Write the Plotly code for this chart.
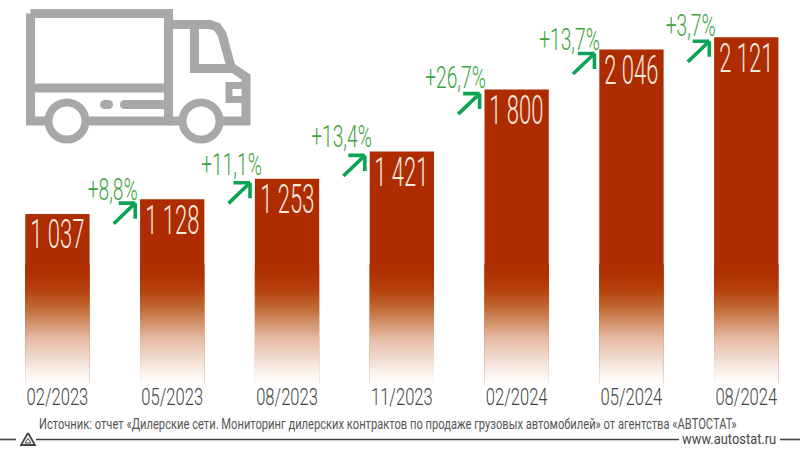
import plotly.graph_objects as go

W, H = 800, 450
BASE_PX = 383
PX_PER_UNIT = 0.163

periods = ["02/2023", "05/2023", "08/2023", "11/2023", "02/2024", "05/2024", "08/2024"]
dealers = [1037, 1128, 1253, 1421, 1800, 2046, 2121]
value_labels = ["1 037", "1 128", "1 253", "1 421", "1 800", "2 046", "2 121"]
growth_labels = ["", "+8,8%", "+11,1%", "+13,4%", "+26,7%", "+13,7%", "+3,7%"]
growth_dx = [0, -59.5, -55.5, -60, -61, -61.5, -56]
growth_dy = [0, 10, 15, 15, 13, 11, 12]

SOURCE = "Источник: отчет «Дилерские сети. Мониторинг дилерских контрактов по продаже грузовых автомобилей» от агентства «АВТОСТАТ»"
SITE = "www.autostat.ru"

FONT = "Roboto"
BAR = "rgb(174,45,0)"
GREEN_TXT = "#3BA53B"
GREEN_ARW = "#0BA455"
GRAY = "#A8A8A8"
DARK = "#444444"
BAR_W = 0.56

# gradient stops: (height in axis units, colour)
FADE = [(0, (255, 253, 251)), (61, (250, 243, 238)), (264, (230, 190, 168)), (466, (192, 104, 50)),
        (570, (182, 66, 14)), (650, (176, 52, 4)), (724, (174, 45, 0))]

def fade_colour(v):
    for (v0, c0), (v1, c1) in zip(FADE, FADE[1:]):
        if v <= v1:
            t = (v - v0) / (v1 - v0)
            return tuple(round(a + (b - a) * t) for a, b in zip(c0, c1))
    return FADE[-1][1]

def px(x):
    return x / W
def py(y):
    return 1 - y / H

fig = go.Figure()
fig.add_bar(x=periods, y=dealers, width=BAR_W, marker=dict(color=BAR, line_width=0), showlegend=False)

STEPS = 60
step = FADE[-1][0] / STEPS
for i in range(STEPS):
    c = fade_colour(step * (i + 0.5))
    fig.add_bar(x=periods, y=[step * 1.5] * len(periods), base=[step * i] * len(periods), width=BAR_W,
                marker=dict(color=f"rgb{c}", line_width=0), showlegend=False, hoverinfo="skip")

ann = []
for i, p in enumerate(periods):
    ann.append(dict(x=p, y=dealers[i], text=value_labels[i], showarrow=False, yshift=-21,
                    yanchor="middle", font=dict(family=FONT, size=40, weight=300, color="#F7E9E0")))
    if growth_labels[i]:
        ann.append(dict(x=p, y=dealers[i], text=growth_labels[i], showarrow=False, xshift=growth_dx[i], yshift=growth_dy[i],
                        xanchor="center", yanchor="middle", font=dict(family=FONT, size=32, weight=300, color=GREEN_TXT)))
        for ax, ay in [(-23, 22), (-18, 0), (0, 17)]:
            ann.append(dict(x=p, y=dealers[i], xshift=-37, yshift=-4, text="", showarrow=True, arrowhead=0, arrowwidth=3.6,
                            arrowcolor=GREEN_ARW, ax=ax, ay=ay, standoff=0))

ann.append(dict(xref="paper", yref="paper", x=px(387), y=py(424), text=SOURCE, showarrow=False,
                xanchor="center", yanchor="middle", font=dict(family=FONT, size=15, color="#555555")))
ann.append(dict(xref="paper", yref="paper", x=px(729), y=py(439), text=SITE, showarrow=False,
                xanchor="center", yanchor="middle", font=dict(family=FONT, size=14, color=DARK)))

def line(x0, y0, x1, y1, w=9, color=GRAY):
    return dict(type="line", xref="paper", yref="paper", x0=px(x0), y0=py(y0), x1=px(x1), y1=py(y1),
                line=dict(color=color, width=w))

def path(points, w=9, color=GRAY, fill=None):
    d = "M" + " L".join(f"{px(a):.5f},{py(b):.5f}" for a, b in points)
    return dict(type="path", xref="paper", yref="paper", path=d, line=dict(color=color, width=w),
                fillcolor=fill if fill else "rgba(0,0,0,0)")

def circle(cx, cy, r, w=8, color=GRAY, fill="white"):
    return dict(type="circle", xref="paper", yref="paper", x0=px(cx - r), x1=px(cx + r), y0=py(cy + r), y1=py(cy - r),
                line=dict(color=color, width=w), fillcolor=fill)

shapes = [
    path([(30.5, 13.5), (168.5, 13.5), (168.5, 121), (30.5, 121), (30.5, 13.5)]),
    line(30.5, 88, 168.5, 88),
    path([(168.5, 24.5), (210, 24.5), (217, 27), (222, 34), (231, 67), (246, 77), (246, 121), (168.5, 121)]),
    path([(194.5, 24.5), (194.5, 68.5), (232, 68.5)]),
    path([(246, 85.5), (229, 85.5), (229, 99.5), (246, 99.5)], w=7),
    line(124.5, 104.5, 165, 104.5, w=9),
    line(104.5, 104.5, 108.5, 104.5, w=9),
    circle(67, 121, 18.5),
    circle(201, 121, 18.5),
    circle(124.5, 104.5, 4.5, w=0, fill=GRAY),
    circle(104.5, 104.5, 4.5, w=0, fill=GRAY),
    circle(108.5, 104.5, 4.5, w=0, fill=GRAY),
    line(0, 439.5, 16, 439.5, w=1.6, color=DARK),
    line(36, 439.5, 679, 439.5, w=1.6, color=DARK),
    line(780, 439.5, 800, 439.5, w=1.6, color=DARK),
    path([(28, 433), (35, 445), (21, 445), (28, 433)], w=1.8, color=DARK),
    path([(28, 438.5), (31, 443), (25, 443), (28, 438.5)], w=1, color=DARK),
]

fig.update_layout(
    width=W, height=H, autosize=False, margin=dict(l=0, r=0, t=0, b=0),
    paper_bgcolor="white", plot_bgcolor="white", barmode="overlay",
    annotations=ann, shapes=shapes, showlegend=False,
    xaxis=dict(type="category", range=[-0.5, 6.468], showgrid=False, zeroline=False, showline=False, ticks="",
               ticklabelstandoff=-2, tickangle=0, tickfont=dict(family=FONT, size=23, weight=300, color=DARK), fixedrange=True),
    yaxis=dict(domain=[(H - BASE_PX) / H, 1], range=[0, BASE_PX / PX_PER_UNIT], visible=False, fixedrange=True),
)

# the reference uses a condensed face; squeeze the installed one horizontally, keeping real text
POST = """
document.documentElement.style.margin = '0';
document.body.style.margin = '0';
var factors = {40: 0.55, 32: 0.6, 23: 0.72, 15: 0.744, 14: 0.92};
document.querySelectorAll('svg text').forEach(function (t) {
  var f = factors[Math.round(parseFloat(t.style.fontSize))];
  if (f && t.textContent) {
    t.setAttribute('textLength', t.getComputedTextLength() * f);
    t.setAttribute('lengthAdjust', 'spacingAndGlyphs');
  }
});
"""
fig.write_html("out.html", config=dict(displayModeBar=False), post_script=POST)
